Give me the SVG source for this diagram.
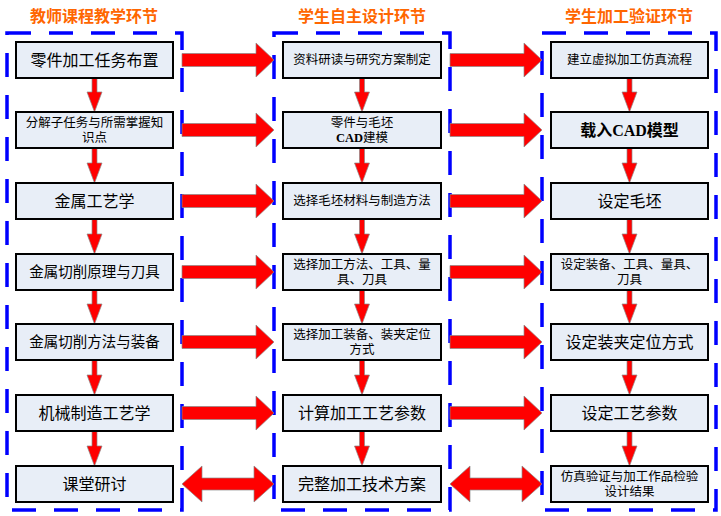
<svg xmlns="http://www.w3.org/2000/svg" width="721" height="516" viewBox="0 0 721 516">
<style>
.hdr{font-family:"Noto Sans CJK SC",sans-serif;font-size:16px;font-weight:bold;fill:#FF6600;text-anchor:middle;dominant-baseline:central}
.frame{fill:none;stroke:#0000FF;stroke-width:3.5;stroke-dasharray:24 18}
.box{fill:#E8EEF7;stroke:#000;stroke-width:2}
.t{font-family:"Liberation Serif","Noto Sans CJK SC",serif;fill:#000;text-anchor:middle;dominant-baseline:central}
.big{font-size:16px}
.sm{font-size:12.5px}
.b{font-weight:bold}
.arr{fill:#FF0000;stroke:#8a8a8a;stroke-width:0.7}
</style>
<defs>
<path id="ha" d="M0,-6.5 H74 V-17 L92,0 L74,17 V6.5 H0 Z"/>
<path id="da" d="M0,0 L20,-18 V-6 H72 V-18 L92,0 L72,18 V6 H20 V18 Z"/>
<path id="va" d="M-2.5,0 V15 H-7.5 L0,35 L7.5,15 H2.5 V0 Z"/>
</defs>

<g id="headers">
<text class="hdr" x="94" y="15">教师课程教学环节</text>
<text class="hdr" x="362" y="15">学生自主设计环节</text>
<text class="hdr" x="629" y="15">学生加工验证环节</text>
</g>

<g id="frames">
<rect class="frame" x="7" y="33" width="175" height="477"/>
<rect class="frame" x="274" y="33" width="176" height="477"/>
<rect class="frame" x="542" y="33" width="174" height="477"/>
</g>

<g id="connectors">
<use href="#ha" class="arr" transform="translate(182,60)"/>
<use href="#ha" class="arr" transform="translate(182,130)"/>
<use href="#ha" class="arr" transform="translate(182,201)"/>
<use href="#ha" class="arr" transform="translate(182,272)"/>
<use href="#ha" class="arr" transform="translate(182,342)"/>
<use href="#ha" class="arr" transform="translate(182,413)"/>
<use href="#da" class="arr" transform="translate(182,484)"/>
<use href="#ha" class="arr" transform="translate(450,60)"/>
<use href="#ha" class="arr" transform="translate(450,130)"/>
<use href="#ha" class="arr" transform="translate(450,201)"/>
<use href="#ha" class="arr" transform="translate(450,272)"/>
<use href="#ha" class="arr" transform="translate(450,342)"/>
<use href="#ha" class="arr" transform="translate(450,413)"/>
<use href="#da" class="arr" transform="translate(450,484)"/>

<use href="#va" class="arr" transform="translate(94.5,77)"/>
<use href="#va" class="arr" transform="translate(94.5,148)"/>
<use href="#va" class="arr" transform="translate(94.5,219)"/>
<use href="#va" class="arr" transform="translate(94.5,289)"/>
<use href="#va" class="arr" transform="translate(94.5,360)"/>
<use href="#va" class="arr" transform="translate(94.5,431)"/>
<use href="#va" class="arr" transform="translate(362,77)"/>
<use href="#va" class="arr" transform="translate(362,148)"/>
<use href="#va" class="arr" transform="translate(362,219)"/>
<use href="#va" class="arr" transform="translate(362,289)"/>
<use href="#va" class="arr" transform="translate(362,360)"/>
<use href="#va" class="arr" transform="translate(362,431)"/>
<use href="#va" class="arr" transform="translate(629.5,77)"/>
<use href="#va" class="arr" transform="translate(629.5,148)"/>
<use href="#va" class="arr" transform="translate(629.5,219)"/>
<use href="#va" class="arr" transform="translate(629.5,289)"/>
<use href="#va" class="arr" transform="translate(629.5,360)"/>
<use href="#va" class="arr" transform="translate(629.5,431)"/>
</g>

<g id="L1"><rect class="box" x="16" y="42" width="157" height="36"/><text class="t big" x="94.5" y="60">零件加工任务布置</text></g>
<g id="L2"><rect class="box" x="16" y="112" width="157" height="36"/><text class="t sm" x="94.5" y="122.5">分解子任务与所需掌握知</text><text class="t sm" x="94.5" y="137.5">识点</text></g>
<g id="L3"><rect class="box" x="16" y="183" width="157" height="36"/><text class="t big" x="94.5" y="201">金属工艺学</text></g>
<g id="L4"><rect class="box" x="16" y="254" width="157" height="36"/><text class="t" style="font-size:14.5px" x="94.5" y="272">金属切削原理与刀具</text></g>
<g id="L5"><rect class="box" x="16" y="324" width="157" height="36"/><text class="t" style="font-size:14.5px" x="94.5" y="342">金属切削方法与装备</text></g>
<g id="L6"><rect class="box" x="16" y="395" width="157" height="36"/><text class="t big" x="94.5" y="413">机械制造工艺学</text></g>
<g id="L7"><rect class="box" x="16" y="466" width="157" height="36"/><text class="t big" x="94.5" y="484">课堂研讨</text></g>

<g id="M1"><rect class="box" x="283" y="42" width="158" height="36"/><text class="t sm" x="362" y="60">资料研读与研究方案制定</text></g>
<g id="M2"><rect class="box" x="283" y="112" width="158" height="36"/><text class="t sm" x="362" y="122.5">零件与毛坯</text><text class="t sm" x="362" y="137.5"><tspan class="b">CAD</tspan>建模</text></g>
<g id="M3"><rect class="box" x="283" y="183" width="158" height="36"/><text class="t sm" x="362" y="201">选择毛坯材料与制造方法</text></g>
<g id="M4"><rect class="box" x="283" y="254" width="158" height="36"/><text class="t sm" x="362" y="264.5">选择加工方法、工具、量</text><text class="t sm" x="362" y="279.5">具、刀具</text></g>
<g id="M5"><rect class="box" x="283" y="324" width="158" height="36"/><text class="t sm" x="362" y="334.5">选择加工装备、装夹定位</text><text class="t sm" x="362" y="349.5">方式</text></g>
<g id="M6"><rect class="box" x="283" y="395" width="158" height="36"/><text class="t big" x="362" y="413">计算加工工艺参数</text></g>
<g id="M7"><rect class="box" x="283" y="466" width="158" height="36"/><text class="t big" x="362" y="484">完整加工技术方案</text></g>

<g id="R1"><rect class="box" x="551" y="42" width="157" height="36"/><text class="t sm" x="629.5" y="60">建立虚拟加工仿真流程</text></g>
<g id="R2"><rect class="box" x="551" y="112" width="157" height="36"/><text class="t big b" x="629.5" y="130">载入CAD模型</text></g>
<g id="R3"><rect class="box" x="551" y="183" width="157" height="36"/><text class="t big" x="629.5" y="201">设定毛坯</text></g>
<g id="R4"><rect class="box" x="551" y="254" width="157" height="36"/><text class="t sm" x="629.5" y="264.5">设定装备、工具、量具、</text><text class="t sm" x="629.5" y="279.5">刀具</text></g>
<g id="R5"><rect class="box" x="551" y="324" width="157" height="36"/><text class="t big" x="629.5" y="342">设定装夹定位方式</text></g>
<g id="R6"><rect class="box" x="551" y="395" width="157" height="36"/><text class="t big" x="629.5" y="413">设定工艺参数</text></g>
<g id="R7"><rect class="box" x="551" y="466" width="157" height="36"/><text class="t sm" x="629.5" y="476.5">仿真验证与加工作品检验</text><text class="t sm" x="629.5" y="491.5">设计结果</text></g>
</svg>
